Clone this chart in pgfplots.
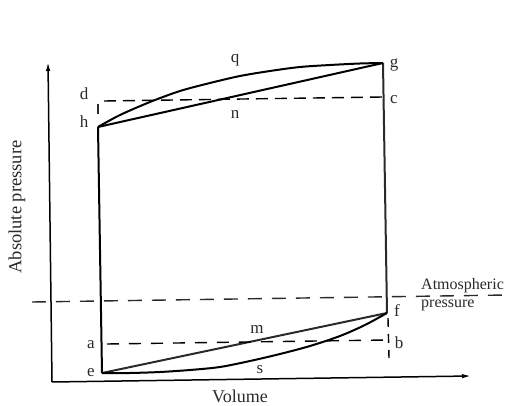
\documentclass[border=0pt]{standalone}
\usepackage{pgfplots}
\pgfplotsset{compat=1.18}
\usetikzlibrary{arrows.meta}
\usepackage{fontspec}
\setmainfont{Liberation Serif}
\definecolor{ink}{HTML}{2A2A2A}
\tikzset{lbl/.style={font=\fontsize{17}{17}\selectfont, text=ink, inner sep=0pt}}
\begin{document}
\begin{tikzpicture}
  \begin{axis}[
    at={(0,0)}, anchor=south west,
    scale only axis,
    width=507pt, height=406pt,
    xmin=0, xmax=507, ymin=0, ymax=406,
    y dir=reverse,
    hide axis,
    clip=false,
    cycle list={{ink, solid, no markers}},
    every axis plot/.append style={line width=2pt, line join=round},
  ]
    % axes (pixel frame of the scan, slightly tilted)
    \addplot[line width=1.5pt, -{Latex[length=9pt,width=4.5pt]}] coordinates {(52,382) (48,62)};
    \addplot[line width=1.5pt, -{Latex[length=9pt,width=4.5pt]}] coordinates {(52,382) (471,376)};

    % cycle: h-g-f-e
    \addplot coordinates {(98,127) (102,373)};
    \addplot coordinates {(383,63) (387,313)};
    % n: straight compression line h-g
    \addplot coordinates {(98,127) (383,63)};
    % q: curve above
    \addplot+[smooth] coordinates {
      (98,127) (120,115) (150,102) (180,91) (210,83) (240,76)
      (270,71) (300,67) (330,65) (360,63.5) (383,63)
    };
    % m: straight line e-f
    \addplot coordinates {(102,373) (387,313)};
    % s: curve below
    \addplot+[smooth] coordinates {
      (102,373) (130,373) (160,372) (190,370) (220,367) (250,361)
      (280,354) (310,346) (340,336) (365,325) (387,313)
    };

    % dashed reference lines
    \addplot+[line width=1.4pt, dash pattern=on 12pt off 7pt] coordinates {(104,101) (383,97)};
    \addplot+[line width=1.4pt] coordinates {(98,104) (98,114)};
    \addplot+[line width=1.4pt, dash pattern=on 12pt off 10pt] coordinates {(107,344) (387,340)};
    \addplot+[line width=1.4pt, dash pattern=on 9pt off 7pt] coordinates {(388,318) (389,358)};
    \addplot+[line width=1.4pt, dash pattern=on 14pt off 10pt] coordinates {(32,302) (507,295)};

    % point labels
    \node[lbl] at (axis cs:235,60) {q};
    \node[lbl] at (axis cs:235,114) {n};
    \node[lbl] at (axis cs:84,94) {d};
    \node[lbl] at (axis cs:84,122) {h};
    \node[lbl] at (axis cs:394,65) {g};
    \node[lbl] at (axis cs:394,100) {c};
    \node[lbl] at (axis cs:397,311) {f};
    \node[lbl] at (axis cs:399,343) {b};
    \node[lbl] at (axis cs:257,329) {m};
    \node[lbl] at (axis cs:260,370) {s};
    \node[lbl] at (axis cs:91,345) {a};
    \node[lbl] at (axis cs:91,373) {e};

    % axis titles
    \node[lbl, font=\fontsize{18}{18}\selectfont] at (axis cs:240,396) {Volume};
    \node[lbl, font=\fontsize{18.5}{18.5}\selectfont, rotate=90] at (axis cs:17,207) {Absolute pressure};
    \node[lbl, font=\fontsize{16}{18}\selectfont, anchor=west, align=left] at (axis cs:421,295)
      {Atmospheric\\pressure};
  \end{axis}
  \pgfresetboundingbox
  \useasboundingbox (0,0) rectangle (507pt,406pt);
\end{tikzpicture}
\end{document}
